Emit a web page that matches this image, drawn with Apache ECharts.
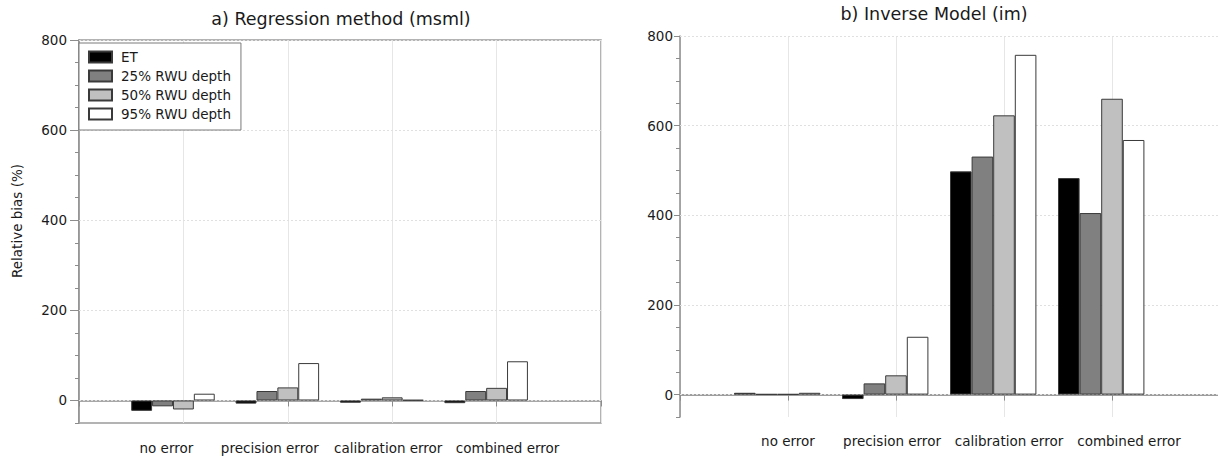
<!DOCTYPE html>
<html><head><meta charset="utf-8">
<script src="https://cdn.jsdelivr.net/npm/echarts@6/dist/echarts.min.js"></script>
<style>html,body{margin:0;padding:0;background:#fff}#c{width:1218px;height:461px}</style>
</head><body><div id="c"></div>
<script>
// ---- data ----
const categories = ['no error', 'precision error', 'calibration error', 'combined error'];
const seriesNames = ['ET', '25% RWU depth', '50% RWU depth', '95% RWU depth'];
// a) Regression method (msml)
const msmlET = [-23, -7, -5, -6];
const msml25 = [-13, 21, 4, 21];
const msml50 = [-20, 29, 7, 28];
const msml95 = [15, 83, 1, 87];
// b) Inverse Model (im)
const imET = [4, -10, 498, 483];
const im25 = [1, 25, 531, 405];
const im50 = [1, 43, 623, 660];
const im95 = [4, 129, 758, 568];
const yTickLabels = [0, 200, 400, 600, 800];
const panelTitles = ['a) Regression method (msml)', 'b) Inverse Model (im)'];
const yAxisTitle = 'Relative bias (%)';

// ---- style / layout ----
const FONT = 'DejaVu Sans';
const fills = ['#000000', '#808080', '#c0c0c0', '#ffffff'];
const axisCol = '#8c8c8c';
const textCol = '#1a1a1a';
const grids = [
  {left: 79, top: 40, width: 522, height: 383, show: true},
  {left: 680, top: 36, width: 540, height: 381, show: false}
];
const labelShift = [[-17, -18, -4, 11], [0, -4, 5, 17]];
const yLabelMargin = [12, 7];
const xLabelMargin = [18, 17];
const panelData = [[msmlET, msml25, msml50, msml95], [imET, im25, im50, im95]];

const axisCats = [''].concat(categories, ['']);

function richFor(g) {
  const r = {};
  labelShift[g].forEach((d, i) => {
    r['c' + (i + 1)] = {
      fontFamily: FONT, fontSize: 13.5, color: textCol,
      padding: d < 0 ? [0, -2 * d, 0, 0] : [0, 0, 0, 2 * d]
    };
  });
  return r;
}

const xAxes = [], yAxes = [], series = [];
[0, 1].forEach(g => {
  xAxes.push({
    type: 'category', gridIndex: g, data: axisCats, boundaryGap: false,
    axisLine: {lineStyle: {color: axisCol, width: 1.5}},
    axisTick: {show: true, length: 6, lineStyle: {color: axisCol, width: 1}},
    axisLabel: {
      interval: 0, margin: xLabelMargin[g], fontFamily: FONT, fontSize: 13.5, color: textCol,
      formatter: (v, i) => v ? '{c' + i + '|' + v + '}' : '',
      rich: richFor(g)
    },
    splitLine: {show: true, lineStyle: {color: '#e6e6e6', width: 1}}
  });
  yAxes.push({
    type: 'value', gridIndex: g, min: -50, max: 800, interval: 50,
    axisLine: {show: true, lineStyle: {color: axisCol, width: 1.5}},
    axisTick: {show: true, length: 4, lineStyle: {color: axisCol}},
    axisLabel: {show: false},
    splitLine: {show: false}
  });
  yAxes.push({
    type: 'value', gridIndex: g, min: -50, max: 800, interval: 50, position: 'left',
    axisLine: {show: false},
    axisTick: {show: true, length: g === 0 ? 9 : 6, customValues: yTickLabels, lineStyle: {color: axisCol}},
    axisLabel: {show: true, customValues: yTickLabels, margin: yLabelMargin[g],
      fontFamily: FONT, fontSize: 13.5, color: textCol},
    splitLine: {show: false}
  });
  const vals = panelData[g];
  vals.forEach((arr, s) => {
    const ser = {
      type: 'bar', name: seriesNames[s], xAxisIndex: g, yAxisIndex: g * 2,
      data: [null].concat(arr, [null]),
      barGap: '0%', barCategoryGap: '0%',
      itemStyle: {color: fills[s], borderColor: '#3a3a3a', borderWidth: 1},
      silent: true
    };
    if (s === 0) {
      ser.markLine = {
        silent: true, symbol: 'none', z: 1, animation: false,
        label: {show: false},
        lineStyle: {color: '#e0e0e0', type: [2, 2], width: 1},
        data: yTickLabels.map(v => ({yAxis: v}))
      };
    }
    series.push(ser);
  });
  series.push({
    type: 'bar', name: '_spacer', xAxisIndex: g, yAxisIndex: g * 2,
    data: axisCats.map(() => null), barGap: '0%', barCategoryGap: '0%', silent: true
  });
});
// top frame line of the right panel (its right edge lies outside the picture)
xAxes.push({
  type: 'category', gridIndex: 1, data: axisCats, boundaryGap: false, position: 'top',
  axisLine: {show: true, lineStyle: {color: '#9a9a9a', width: 1.5}},
  axisTick: {show: false}, axisLabel: {show: false}, splitLine: {show: false}
});

const chart = echarts.init(document.getElementById('c'), null, {renderer: 'svg'});
chart.setOption({
  animation: false,
  backgroundColor: '#ffffff',
  grid: grids.map(r => Object.assign({borderColor: '#9a9a9a', borderWidth: 1.5,
    backgroundColor: 'transparent', containLabel: false, outerBoundsMode: 'none'}, r)),
  xAxis: xAxes,
  yAxis: yAxes,
  legend: {
    data: seriesNames, orient: 'vertical', left: 79, top: 43,
    itemWidth: 23, itemHeight: 11, itemGap: 5,
    padding: [7, 10, 9, 9], borderColor: '#7a7a7a', borderWidth: 1, backgroundColor: '#ffffff',
    icon: 'rect', selectedMode: false,
    textStyle: {fontFamily: FONT, fontSize: 13.5, color: textCol, padding: [0, 0, 0, 4]}
  },
  graphic: [
    {type: 'text', x: 341, y: 19, silent: true,
      style: {text: panelTitles[0], fontFamily: FONT, fontSize: 17.5, fill: textCol, textAlign: 'center', textVerticalAlign: 'middle'}},
    {type: 'text', x: 934, y: 14, silent: true,
      style: {text: panelTitles[1], fontFamily: FONT, fontSize: 17.5, fill: textCol, textAlign: 'center', textVerticalAlign: 'middle'}},
    {type: 'text', x: 17, y: 221, rotation: Math.PI / 2, silent: true,
      style: {text: yAxisTitle, fontFamily: FONT, fontSize: 13.5, fill: textCol, textAlign: 'center', textVerticalAlign: 'middle'}}
  ],
  series: series
});
</script></body></html>
